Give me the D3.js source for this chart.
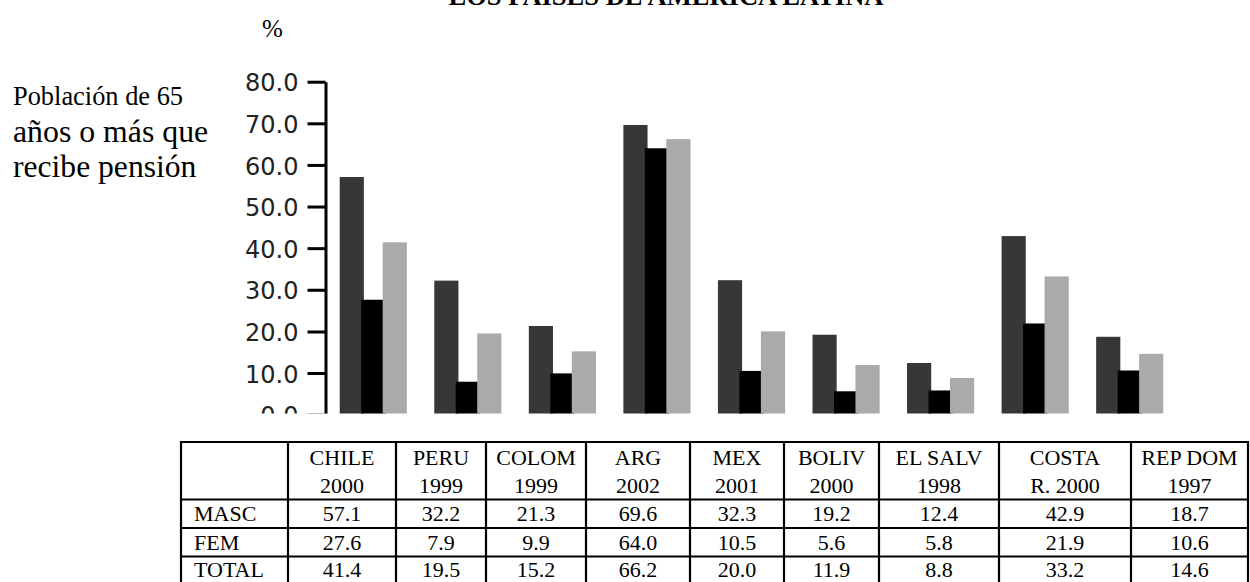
<!DOCTYPE html>
<html>
<head>
<meta charset="utf-8">
<script src="https://cdn.jsdelivr.net/npm/d3@7"></script>
<style>
  html, body { margin: 0; padding: 0; background: #fff; }
  svg { display: block; }
</style>
</head>
<body>
<svg id="chart" width="1250" height="582"></svg>
<script>
// ---------------- DATA ----------------
const categories = ["CHILE 2000", "PERU 1999", "COLOM 1999", "ARG 2002", "MEX 2001",
                    "BOLIV 2000", "EL SALV 1998", "COSTA R. 2000", "REP DOM 1997"];
const headerLines = [["CHILE", "2000"], ["PERU", "1999"], ["COLOM", "1999"], ["ARG", "2002"],
                     ["MEX", "2001"], ["BOLIV", "2000"], ["EL SALV", "1998"],
                     ["COSTA", "R. 2000"], ["REP DOM", "1997"]];
const series = ["MASC", "FEM", "TOTAL"];
const masc  = [57.1, 32.2, 21.3, 69.6, 32.3, 19.2, 12.4, 42.9, 18.7];
const fem   = [27.6,  7.9,  9.9, 64.0, 10.5,  5.6,  5.8, 21.9, 10.6];
const total = [41.4, 19.5, 15.2, 66.2, 20.0, 11.9,  8.8, 33.2, 14.6];
const yTicks = [0, 10, 20, 30, 40, 50, 60, 70, 80];
const titleText = "LOS PAISES DE AMERICA LATINA";
const sideLabel = ["Población de 65", "años o más que", "recibe pensión"];

// ---------------- LAYOUT ----------------
const svg = d3.select("#chart");
const colors = { MASC: "#373737", FEM: "#000000", TOTAL: "#aaaaaa" };
const valuesBySeries = { MASC: masc, FEM: fem, TOTAL: total };

const x0 = d3.scaleBand().domain(categories).range([326, 1177])
  .paddingInner(0.29).paddingOuter(0.145);
const barW = x0.bandwidth() * 0.36;
const x1 = d3.scalePoint().domain(series).range([0, x0.bandwidth() - barW]);
const y = d3.scaleLinear().domain([0, 80]).range([414.6, 81.7]);

// clip for the chart area (bottom is cut off in the original)
svg.append("defs").append("clipPath").attr("id", "cut")
  .append("rect").attr("x", 0).attr("y", 0).attr("width", 1250).attr("height", 413.5);

const chart = svg.append("g").attr("clip-path", "url(#cut)");

// title (mostly cut off at top, as in the original)
svg.append("text")
  .attr("x", 666).attr("y", 5)
  .attr("text-anchor", "middle")
  .style("font-family", "'Liberation Serif', 'Times New Roman', serif")
  .style("font-weight", "bold")
  .style("font-size", "26.5px")
  .text(titleText);

// % label
svg.append("text")
  .attr("x", 262).attr("y", 37)
  .style("font-family", "'Liberation Serif', 'Times New Roman', serif")
  .style("font-size", "25px")
  .text("%");

// side label
const sideSizes = [26.4, 31.8, 31.6];
const sideY = [105, 141.5, 177];
sideLabel.forEach((t, i) => {
  svg.append("text")
    .attr("x", 13).attr("y", sideY[i])
    .style("font-family", "'Liberation Serif', 'Times New Roman', serif")
    .style("font-size", sideSizes[i] + "px")
    .text(t);
});

// bars
const groups = chart.selectAll("g.grp").data(categories).enter().append("g")
  .attr("class", "grp")
  .attr("transform", d => `translate(${x0(d)},0)`);

groups.selectAll("rect").data((d, i) => series.map(s => ({ s, v: valuesBySeries[s][i] })))
  .enter().append("rect")
  .attr("x", d => x1(d.s))
  .attr("width", barW)
  .attr("y", d => y(d.v))
  .attr("height", d => y(0) - y(d.v))
  .attr("fill", d => colors[d.s]);

// y axis
const yAxis = d3.axisLeft(y).tickValues(yTicks).tickFormat(d3.format(".1f"))
  .tickSize(18).tickSizeOuter(0).tickPadding(9);
const ax = chart.append("g").attr("transform", "translate(325.5,0)").call(yAxis);
ax.select(".domain").attr("stroke", "#000").attr("stroke-width", 3);
ax.selectAll(".tick line").attr("stroke", "#000").attr("stroke-width", 3);
ax.selectAll(".tick text")
  .attr("fill", "#222")
  .attr("dy", "0.38em")
  .style("font-family", "'DejaVu Sans', Verdana, sans-serif")
  .style("font-size", "24px");

// ---------------- TABLE ----------------
const colEdges = [181, 288, 396, 486, 586, 690, 784, 879, 999, 1131, 1248];
const rowEdges = [442, 499.5, 528, 556.5];
const tbl = svg.append("g");
const serif = "'Liberation Serif', 'Times New Roman', serif";
const fs = "22px";

// grid lines
rowEdges.forEach(ry => {
  tbl.append("line").attr("x1", colEdges[0] - 1).attr("x2", colEdges[colEdges.length - 1] + 1)
    .attr("y1", ry).attr("y2", ry).attr("stroke", "#000").attr("stroke-width", 2.2);
});
colEdges.forEach(cx => {
  tbl.append("line").attr("x1", cx).attr("x2", cx)
    .attr("y1", rowEdges[0] - 1).attr("y2", 582)
    .attr("stroke", "#000").attr("stroke-width", 2.2);
});

// header
headerLines.forEach((lines, i) => {
  const cx = (colEdges[i + 1] + colEdges[i + 2]) / 2;
  lines.forEach((ln, j) => {
    tbl.append("text")
      .attr("x", cx).attr("y", 465 + j * 28)
      .attr("text-anchor", "middle")
      .style("font-family", serif).style("font-size", fs)
      .text(ln);
  });
});

// data rows
const rowBase = [521, 549.5, 577];
series.forEach((s, r) => {
  tbl.append("text")
    .attr("x", 194).attr("y", rowBase[r])
    .style("font-family", serif).style("font-size", fs)
    .text(s);
  valuesBySeries[s].forEach((v, i) => {
    const cx = (colEdges[i + 1] + colEdges[i + 2]) / 2;
    tbl.append("text")
      .attr("x", cx).attr("y", rowBase[r])
      .attr("text-anchor", "middle")
      .style("font-family", serif).style("font-size", fs)
      .text(d3.format(".1f")(v));
  });
});
</script>
</body>
</html>
